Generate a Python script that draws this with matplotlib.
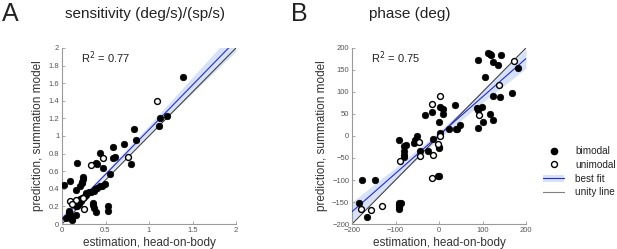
import matplotlib
matplotlib.use("Agg")
import matplotlib.pyplot as plt
import numpy as np
from matplotlib.lines import Line2D
from matplotlib.patches import Patch

plt.rcParams['font.family'] = ['Liberation Sans', 'DejaVu Sans']

# ---------------- Panel A: sensitivity ----------------
sens_bi_x = [1.394, 1.122, 1.21, 1.11, 0.822, 0.849, 0.711, 0.584, 0.438, 0.588, 0.611,
             0.79, 0.388, 0.40, 0.169, 0.469, 0.55, 0.242, 0.242, 0.235, 0.227, 0.023,
             0.092, 0.158, 0.207, 0.492, 0.465, 0.44, 0.408, 0.385, 0.37, 0.339, 0.31,
             0.273, 0.28, 0.25, 0.235, 0.21, 0.22, 0.19, 0.17, 0.157, 0.361, 0.361,
             0.37, 0.396, 0.53, 0.53, 0.08, 0.075, 0.10, 0.11, 0.165, 0.07, 0.05, 0.11]
sens_bi_y = [1.671, 1.207, 1.222, 1.113, 1.074, 0.957, 0.907, 0.873, 0.805, 0.748, 0.763,
             0.68, 0.691, 0.68, 0.698, 0.641, 0.57, 0.539, 0.51, 0.48, 0.463, 0.44,
             0.49, 0.39, 0.436, 0.456, 0.436, 0.43, 0.413, 0.395, 0.37, 0.36, 0.36,
             0.35, 0.33, 0.31, 0.29, 0.28, 0.265, 0.23, 0.21, 0.20, 0.243, 0.212,
             0.18, 0.133, 0.205, 0.148, 0.15, 0.13, 0.09, 0.06, 0.099, 0.08, 0.07, 0.05]
sens_uni_x = [1.087, 0.477, 0.76, 0.339, 0.097, 0.158, 0.242, 0.12, 0.258]
sens_uni_y = [1.40, 0.748, 0.767, 0.672, 0.266, 0.273, 0.29, 0.23, 0.175]
sens_fit = (0.057, 1.015)          # intercept, slope
sens_band_x = [0.0, 0.4, 1.0, 1.5, 2.0]
sens_band_half = [0.045, 0.025, 0.05, 0.09, 0.125]
sens_r2 = "0.77"

# ---------------- Panel B: phase ----------------
phase_bi_x = [89, 112, 117, 120, 143, 125, 136, 182, 106, 125, 140, 168, 88, 89.5, 99,
              118, 124, 100, 89, -16, -32, 37, 3, 9, 9, 0, 23, 38, 41, 48, 3, -14, -1,
              0, -3, 1, -50, -55, -58, -91, -75, -81, -81, -80, -81, -43, -26,
              -184, -177, -146.5, -166, -91, -91, -91, -91, -87]
phase_bi_y = [172, 189, 187, 184, 183, 169, 161, 154, 134, 91, 88, 97, 63, 60, 65,
              51, 37, 31, 19, 54, 47, 70, 67, 62, 51, 32, 16, 17, 15, 25, 6, -7, -24,
              -28, -90, -90, 0, -9, -16, -10, -20, -22, -34, -43, -47, -33, -34,
              -152, -100.7, -100.7, -183, -152, -157, -162, -167, -153]
phase_uni_x = [172, 137, 92, 2, -15, 3, -3, -14, -17, -46, -89, -44, -180, -155.6, -131]
phase_uni_y = [170, 116, 47, 91, 72, 0, -19, -44, -96, -13, -57, -45, -166.6, -169, -158]
phase_fit = (2.0, 0.87)
phase_band_x = [-200, -100, 0, 100, 200]
phase_band_half = [22, 13, 8, 13, 22]
phase_r2 = "0.75"

W, H = 617, 249
fig = plt.figure(figsize=(W / 100, H / 100), dpi=100)

fit_color = '#2b2bd0'
band_color = '#d6e2f8'
unity_color = '#404048'
tick_color = '#555555'
label_color = '#333333'


def style_axes(ax):
    for s in ['top', 'right']:
        ax.spines[s].set_visible(False)
    for s in ['left', 'bottom']:
        ax.spines[s].set_color('#9a9a9a')
        ax.spines[s].set_linewidth(0.8)
    ax.tick_params(direction='in', length=2.5, width=0.6, colors='#9a9a9a',
                   labelsize=5.5, labelcolor=tick_color, pad=2)


def panel(ax, bx, by, ux, uy, fit, band_x, band_half, lim, r2):
    xs = np.linspace(lim[0], lim[1], 200)
    fy = fit[0] + fit[1] * xs
    half = np.interp(xs, band_x, band_half)
    ax.fill_between(xs, fy - half, fy + half, color=band_color, lw=0, zorder=1)
    ax.plot(lim, lim, color=unity_color, lw=0.8, zorder=2)
    ax.plot(xs, fy, color=fit_color, lw=0.8, zorder=3)
    ax.scatter(bx, by, s=22, c='black', edgecolors='black', linewidths=0.5, zorder=4)
    ax.scatter(ux, uy, s=18, c='white', edgecolors='black', linewidths=1.0, zorder=5)
    ax.set_xlim(lim)
    ax.set_ylim(lim)
    ax.text(0.11, 0.945, r'R$^{2}$ = ' + r2, transform=ax.transAxes, fontsize=8,
            color='#222222', va='center', ha='left')
    style_axes(ax)
    ax.set_xlabel('estimation, head-on-body', fontsize=8.5, color=label_color, labelpad=2)
    ax.set_ylabel('prediction, summation model', fontsize=8.5, color=label_color, labelpad=3)


axA = fig.add_axes([62 / W, 25 / H, 174 / W, 176 / H])
panel(axA, sens_bi_x, sens_bi_y, sens_uni_x, sens_uni_y, sens_fit, sens_band_x,
      sens_band_half, (0, 2), sens_r2)
axA.set_xticks([0, 0.5, 1, 1.5, 2])
axA.set_xticklabels(['0', '0.5', '1', '1.5', '2'])
axA.set_yticks(np.arange(0, 2.01, 0.2))
axA.set_yticklabels(['0', '0.2', '0.4', '0.6', '0.8', '1', '1.2', '1.4', '1.6', '1.8', '2'])

axB = fig.add_axes([352 / W, 25 / H, 174 / W, 176 / H])
panel(axB, phase_bi_x, phase_bi_y, phase_uni_x, phase_uni_y, phase_fit, phase_band_x,
      phase_band_half, (-200, 200), phase_r2)
axB.set_xticks([-200, -100, 0, 100, 200])
axB.set_yticks(np.arange(-200, 201, 50))

# Titles and panel letters
fig.text(145 / W, 1 - 14 / H, 'sensitivity (deg/s)/(sp/s)', fontsize=11, color='#222222',
         ha='center', va='center')
fig.text(410 / W, 1 - 14 / H, 'phase (deg)', fontsize=11, color='#222222',
         ha='center', va='center')
fig.text(2 / W, 1 - 14 / H, 'A', fontsize=18, color='#222222', ha='left', va='center')
fig.text(291 / W, 1 - 14 / H, 'B', fontsize=18, color='#222222', ha='left', va='center')

# Legend
handles = [
    Line2D([], [], ls='none', marker='o', markersize=4.5, mfc='black', mec='black'),
    Line2D([], [], ls='none', marker='o', markersize=4.3, mfc='white', mec='black', mew=1.0),
    (Patch(facecolor=band_color, edgecolor='none'), Line2D([], [], color=fit_color, lw=0.8)),
    Line2D([], [], color='#808080', lw=0.8),
]
labels = ['bimodal', 'unimodal', 'best fit', 'unity line']
fig.legend(handles, labels, loc='upper left', bbox_to_anchor=(543 / W, 1 - 146 / H),
           frameon=False, fontsize=7.2, handlelength=2.1, handletextpad=1.1,
           labelspacing=0.38, borderaxespad=0, borderpad=0, labelcolor='#222222')

fig.savefig('out.png', dpi=100)
